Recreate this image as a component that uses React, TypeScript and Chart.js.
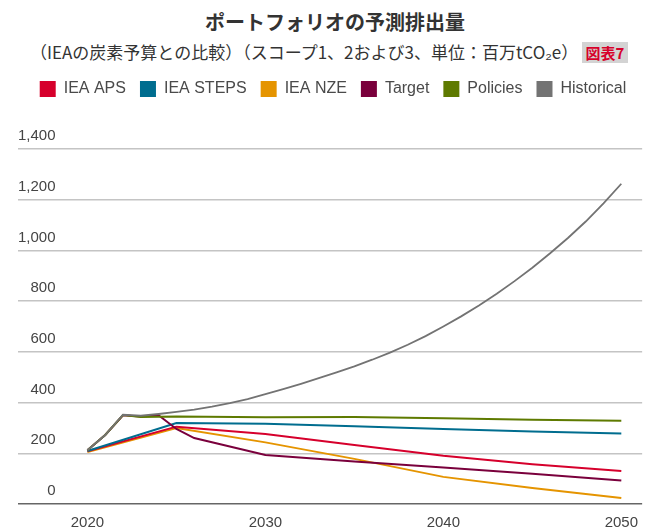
import React, { useEffect, useRef } from "react";
import { Chart, registerables } from "chart.js";

Chart.register(...registerables);

// ---- Data ----
const titleText = "ポートフォリオの予測排出量";
const subtitleText = "（IEAの炭素予算との比較）（スコープ1、2および3、単位：百万tCO₂e）";
const badgeText = "図表7";

const xTickYears = [2020, 2030, 2040, 2050];
const yTickValues = [0, 200, 400, 600, 800, 1000, 1200, 1400];

const apsYears = [2020, 2025, 2030, 2035, 2040, 2045, 2050];
const apsValues = [208, 305, 276, 233, 190, 157, 130];

const stepsYears = [2020, 2025, 2030, 2035, 2040, 2045, 2050];
const stepsValues = [209, 319, 316, 307, 296, 286, 278];

const nzeYears = [2020, 2025, 2030, 2035, 2040, 2045, 2050];
const nzeValues = [205, 300, 243, 178, 107, 63, 24];

const targetYears = [2020, 2021, 2022, 2023, 2024, 2025, 2026, 2030, 2035, 2040, 2045, 2050];
const targetValues = [212, 272, 350, 345, 350, 296, 260, 193, 168, 144, 119, 93];

const policiesYears = [2020, 2021, 2022, 2023, 2025, 2030, 2035, 2040, 2045, 2050];
const policiesValues = [212, 272, 351, 343, 345, 342, 343, 338, 332, 328];

const historicalYears = [
  2020, 2021, 2022, 2023, 2024, 2025, 2026, 2027, 2028, 2029, 2030,
  2031, 2032, 2033, 2034, 2035, 2036, 2037, 2038, 2039, 2040,
  2041, 2042, 2043, 2044, 2045, 2046, 2047, 2048, 2049, 2050,
];
const historicalValues = [
  212, 272, 352, 348, 355, 363, 372, 384, 398, 414, 433,
  453, 474, 496, 519, 543, 569, 597, 628, 662, 700,
  740, 783, 829, 879, 932, 989, 1049, 1114, 1186, 1263,
];

const seriesNames = ["IEA APS", "IEA STEPS", "IEA NZE", "Target", "Policies", "Historical"];
const seriesColors = ["#d6002c", "#006d8f", "#e59400", "#7a003c", "#5e7a00", "#737373"];

const toPoints = (xs: number[], ys: number[]) => xs.map((x, i) => ({ x, y: ys[i] }));

const FONT = "'Liberation Sans', Arial, sans-serif";

export default function App() {
  const canvasRef = useRef<HTMLCanvasElement>(null);

  useEffect(() => {
    document.body.style.margin = "0";
    const seriesData = [
      toPoints(apsYears, apsValues),
      toPoints(stepsYears, stepsValues),
      toPoints(nzeYears, nzeValues),
      toPoints(targetYears, targetValues),
      toPoints(policiesYears, policiesValues),
      toPoints(historicalYears, historicalValues),
    ];
    const drawOrder = [5, 4, 6, 3, 2, 1];

    const legendSpacer = {
      id: "legendSpacer",
      beforeInit(chart: any) {
        const origFit = chart.legend.fit;
        chart.legend.fit = function () {
          origFit.bind(chart.legend)();
          this.height += 42;
        };
      },
    };

    const chart = new Chart(canvasRef.current!, {
      type: "line",
      data: {
        datasets: seriesNames.map((name, i) => ({
          label: name,
          data: seriesData[i],
          borderColor: seriesColors[i],
          backgroundColor: seriesColors[i],
          borderWidth: i === 5 ? 1.8 : 2,
          pointRadius: 0,
          pointHoverRadius: 0,
          tension: 0,
          fill: false,
          order: drawOrder[i],
        })),
      },
      options: {
        responsive: false,
        animation: false,
        locale: "en-US",
        layout: { padding: { left: 18, right: 0, top: 0, bottom: 0 } },
        plugins: {
          tooltip: { enabled: false },
          legend: {
            position: "top",
            align: "center",
            labels: {
              boxWidth: 16,
              boxHeight: 16,
              padding: 14,
              color: "#4a4a4a",
              font: { family: FONT, size: 16 },
              sort: (a: any, b: any) => a.datasetIndex - b.datasetIndex,
              generateLabels: (ch: any) =>
                ch.data.datasets.map((ds: any, i: number) => ({
                  text: ds.label,
                  fillStyle: ds.borderColor,
                  strokeStyle: ds.borderColor,
                  lineWidth: 0,
                  hidden: false,
                  datasetIndex: i,
                  fontColor: "#4a4a4a",
                })),
            },
          },
          title: { display: false },
        },
        scales: {
          x: {
            type: "linear",
            min: 2016.1,
            max: 2051.17,
            grid: { display: false, drawTicks: false },
            border: { display: false },
            afterBuildTicks: (scale: any) => {
              scale.ticks = xTickYears.map((v) => ({ value: v }));
            },
            ticks: {
              color: "#444",
              padding: 10,
              maxRotation: 0,
              autoSkip: false,
              font: { family: FONT, size: 15 },
              callback: (v: any) => String(v),
            },
          },
          y: {
            type: "linear",
            min: 0,
            max: 1400,
            border: { display: false },
            grid: {
              drawTicks: false,
              color: (ctx: any) => (ctx.tick && ctx.tick.value === 0 ? "#666" : "#c4c4c4"),
              lineWidth: 1.5,
            },
            afterBuildTicks: (scale: any) => {
              scale.ticks = yTickValues.map((v) => ({ value: v }));
            },
            ticks: {
              mirror: true,
              crossAlign: "far",
              padding: 0,
              labelOffset: -13,
              color: "#444",
              font: { family: FONT, size: 15 },
              callback: (v: any) => Number(v).toLocaleString("en-US"),
            },
          },
        },
      },
      plugins: [legendSpacer],
    } as any);

    return () => chart.destroy();
  }, []);

  return (
    <div style={{ position: "relative", width: 648, height: 532, background: "#fff", overflow: "hidden" }}>
      <div
        style={{
          position: "absolute",
          top: 9,
          left: 0,
          width: 670,
          textAlign: "center",
          fontFamily: "'Noto Sans CJK JP', sans-serif",
          fontWeight: 700,
          fontSize: 20,
          lineHeight: "26px",
          color: "#333",
          whiteSpace: "nowrap",
        }}
      >
        {titleText}
      </div>
      <div
        style={{
          position: "absolute",
          top: 40,
          left: 30,
          fontFamily: "'Noto Sans CJK JP', sans-serif",
          fontSize: 17,
          lineHeight: "24px",
          color: "#333",
          whiteSpace: "nowrap",
        }}
      >
        {subtitleText}
      </div>
      <div
        style={{
          position: "absolute",
          top: 42,
          left: 582,
          width: 46,
          height: 21,
          background: "#d3d3d3",
          color: "#d7002a",
          fontFamily: "'Noto Sans CJK JP', sans-serif",
          fontWeight: 700,
          fontSize: 15,
          lineHeight: "21px",
          textAlign: "center",
        }}
      >
        {badgeText}
      </div>
      <div style={{ position: "absolute", top: 67, left: 0, width: 648, height: 475 }}>
        <canvas ref={canvasRef} width={648} height={475} />
      </div>
    </div>
  );
}
